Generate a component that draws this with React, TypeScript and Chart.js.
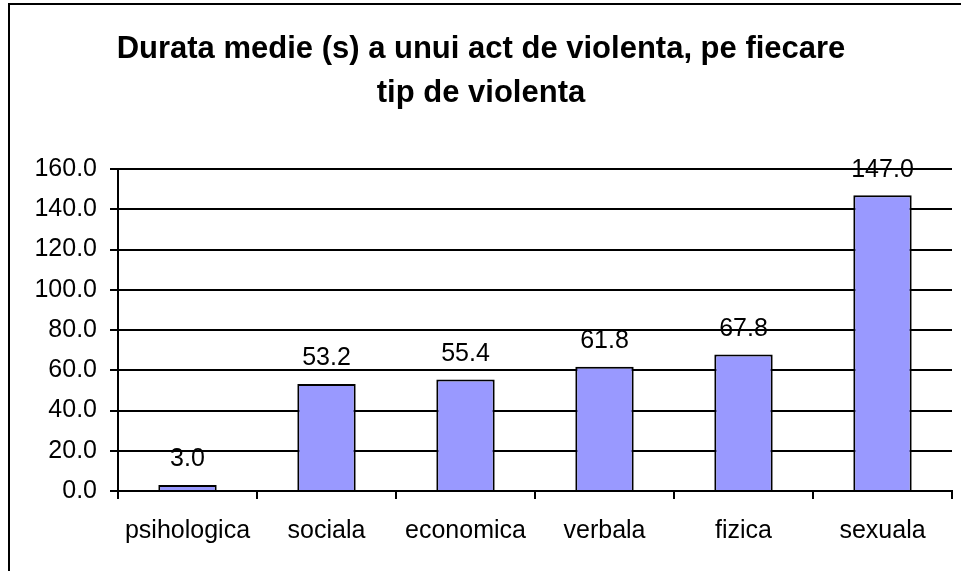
import React, { useEffect, useRef } from "react";
import { Chart, registerables } from "chart.js";

Chart.register(...registerables);

const categories = ["psihologica", "sociala", "economica", "verbala", "fizica", "sexuala"];
const durations = [3.0, 53.2, 55.4, 61.8, 67.8, 147.0];
const titleLines = ["Durata medie (s) a unui act de violenta, pe fiecare", "tip de violenta"];
const yMin = 0;
const yMax = 160;
const yStep = 20;

const FONT = "'Liberation Sans', Arial, Helvetica, sans-serif";

const valueLabels = {
  id: "valueLabels",
  afterDatasetsDraw(chart: any) {
    const ctx = chart.ctx;
    const meta = chart.getDatasetMeta(0);
    const data = chart.data.datasets[0].data as number[];
    ctx.save();
    ctx.font = `25px ${FONT}`;
    ctx.fillStyle = "#000";
    ctx.textAlign = "center";
    ctx.textBaseline = "alphabetic";
    meta.data.forEach((bar: any, i: number) => {
      ctx.fillText(Number(data[i]).toFixed(1), bar.x, bar.y - 18.5);
    });
    ctx.restore();
  },
};

export default function App() {
  const ref = useRef<HTMLCanvasElement>(null);

  useEffect(() => {
    if (!ref.current) return;
    const chart = new Chart(ref.current, {
      type: "bar",
      data: {
        labels: categories,
        datasets: [
          {
            data: durations,
            backgroundColor: "#9999FF",
            borderColor: "#000000",
            borderWidth: 2,
            borderSkipped: "bottom",
            barPercentage: 0.42,
            categoryPercentage: 1,
          },
        ],
      },
      options: {
        responsive: false,
        animation: false,
        devicePixelRatio: 1,
        layout: { padding: { left: 10, right: 9, top: 0, bottom: 20 } },
        plugins: {
          legend: { display: false },
          tooltip: { enabled: false },
          title: {
            display: true,
            text: titleLines,
            color: "#000",
            font: { family: FONT, size: 31, weight: "bold", lineHeight: 1.42 },
            padding: { top: 27, bottom: 54 },
          },
        },
        scales: {
          x: {
            offset: true,
            grid: {
              offset: true,
              drawOnChartArea: false,
              drawTicks: true,
              tickLength: 8,
              color: "#000",
              lineWidth: 2,
            },
            border: { display: true, color: "#000", width: 2 },
            ticks: {
              color: "#000",
              font: { family: FONT, size: 25 },
              padding: 17,
              maxRotation: 0,
              autoSkip: false,
            },
            afterFit(scale: any) {
              scale.height = 60;
            },
          },
          y: {
            min: yMin,
            max: yMax,
            grid: {
              color: "#000",
              lineWidth: 2,
              drawTicks: true,
              tickLength: 8,
            },
            border: { display: true, color: "#000", width: 2 },
            ticks: {
              stepSize: yStep,
              color: "#000",
              font: { family: FONT, size: 25 },
              padding: 13,
              callback: (v: any) => Number(v).toFixed(1),
            },
            afterFit(scale: any) {
              scale.width = 108;
            },
          },
        },
      },
      plugins: [valueLabels],
    });
    return () => chart.destroy();
  }, []);

  return (
    <div
      style={{
        position: "fixed",
        left: 0,
        top: 0,
        width: 961,
        height: 571,
        overflow: "hidden",
        background: "#fff",
      }}
    >
      <div
        style={{
          position: "absolute",
          left: 8,
          top: 3,
          width: 2000,
          height: 2000,
          borderLeft: "2px solid #000",
          borderTop: "2px solid #000",
        }}
      />
      <canvas
        ref={ref}
        width={961}
        height={571}
        style={{ position: "absolute", left: 0, top: 0, width: 961, height: 571 }}
      />
    </div>
  );
}
